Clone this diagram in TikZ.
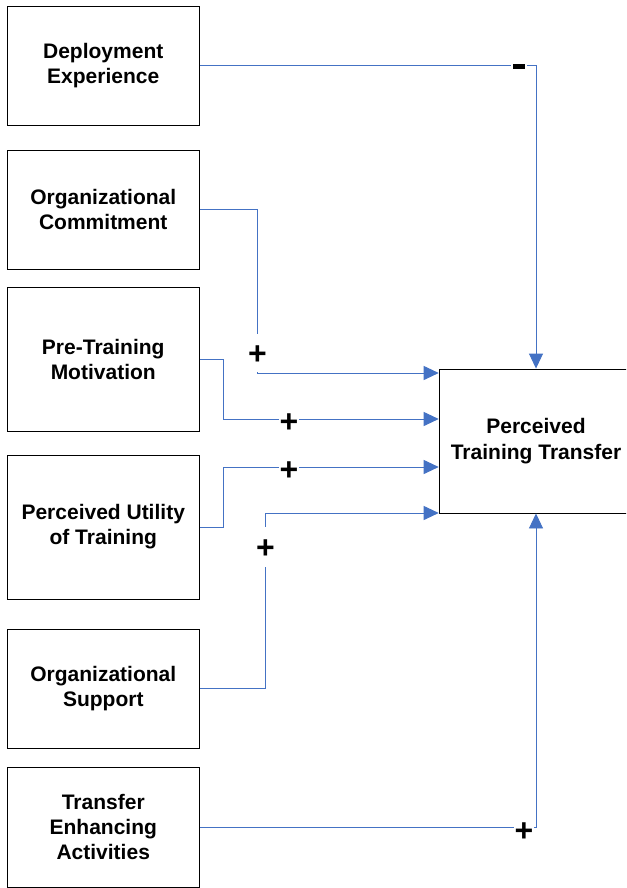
\documentclass[tikz,border=0pt]{standalone}
\usepackage{fontspec}
\setmainfont{Liberation Sans}
\usetikzlibrary{arrows.meta}
\definecolor{lineblue}{HTML}{4472C4}
\tikzset{
  factor/.style={draw=black, line width=0.9pt, inner sep=0pt, minimum width=192.5pt, align=center,
    font=\fontsize{21}{25}\selectfont\bfseries},
  conn/.style={draw=lineblue, line width=0.9pt},
  arr/.style={conn, -{Triangle[length=15pt,width=14pt]}},
  plus/.style={fill=white, inner sep=1pt, font=\fontsize{32}{32}\selectfont\bfseries},
  minus/.style={fill=black, draw=white, line width=1.5pt, minimum width=14pt, minimum height=6.5pt, inner sep=0pt}
}
\begin{document}
\begin{tikzpicture}[x=1pt,y=-1pt]
\clip (0,0) rectangle (626,888);
\fill[white] (0,0) rectangle (626,888);
% source boxes
\node[factor, minimum height=119pt] (b1) at (103.25,65.5) {Deployment\\Experience};
\node[factor, minimum height=119pt] (b2) at (103.25,209.5) {Organizational\\Commitment};
\node[factor, minimum height=144pt] (b3) at (103.25,359) {Pre-Training\\Motivation};
\node[factor, minimum height=144pt] (b4) at (103.25,527) {Perceived Utility\\of Training};
\node[factor, minimum height=119pt] (b5) at (103.25,688.5) {Organizational\\Support};
\node[factor, minimum height=120pt] (b6) at (103.25,827) {Transfer\\Enhancing\\Activities};
% target box
\node[factor, minimum width=193.7pt, minimum height=144pt, font=\fontsize{21}{26}\selectfont\bfseries] (t) at (536,441) {Perceived\\Training Transfer};
\coordinate (in1) at (t.west |- 0,373);
\coordinate (in2) at (t.west |- 0,419);
\coordinate (in3) at (t.west |- 0,467);
\coordinate (in4) at (t.west |- 0,513);
% connectors
\draw[arr] (b1.east) -| (t.north);
\draw[arr] (b2.east) -| (257.5,373) -- (in1);
\draw[arr] (b3.east) -- (223,359) |- (in2);
\draw[arr] (b4.east) -- (223,527) |- (in3);
\draw[arr] (b5.east) -| (265.5,513) -- (in4);
\draw[arr] (b6.east) -| (t.south);
% signs
\node[minus] (m1) at (519,66.5) {};
\node[plus, minimum height=38pt, text height=22pt, text depth=-4pt] (p1) at (257.5,353) {+};
\node[plus] (p2) at (289,423) {+};
\node[plus] (p3) at (289,471) {+};
\node[plus, minimum height=40pt, text height=22pt, text depth=-4pt] (p4) at (265.5,547) {+};
\node[plus, minimum width=20pt] (p5) at (524,832) {+};
\end{tikzpicture}
\end{document}
